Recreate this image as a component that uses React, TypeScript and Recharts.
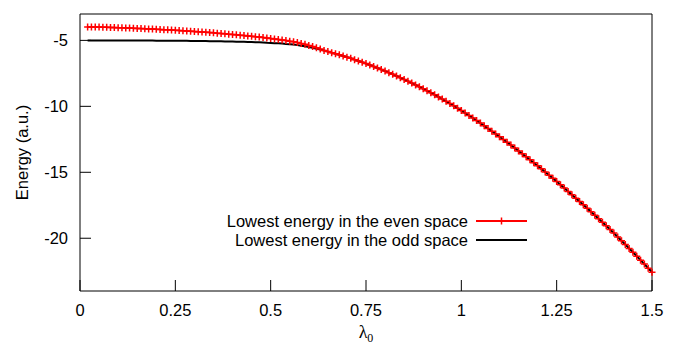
import { LineChart, Line, XAxis, YAxis, Legend, Label } from "recharts";

// lambda_0 grid of the computed points
const lambdas = [
  0.02, 0.03, 0.04, 0.05, 0.06, 0.07, 0.08, 0.09, 0.1,
  0.11, 0.12, 0.13, 0.14, 0.15, 0.16, 0.17, 0.18, 0.19, 0.2,
  0.21, 0.22, 0.23, 0.24, 0.25, 0.26, 0.27, 0.28, 0.29, 0.3,
  0.31, 0.32, 0.33, 0.34, 0.35, 0.36, 0.37, 0.38, 0.39, 0.4,
  0.41, 0.42, 0.43, 0.44, 0.45, 0.46, 0.47, 0.48, 0.49, 0.5,
  0.51, 0.52, 0.53, 0.54, 0.55, 0.56, 0.57, 0.58, 0.59, 0.6,
  0.61, 0.62, 0.63, 0.64, 0.65, 0.66, 0.67, 0.68, 0.69, 0.7,
  0.71, 0.72, 0.73, 0.74, 0.75, 0.76, 0.77, 0.78, 0.79, 0.8,
  0.81, 0.82, 0.83, 0.84, 0.85, 0.86, 0.87, 0.88, 0.89, 0.9,
  0.91, 0.92, 0.93, 0.94, 0.95, 0.96, 0.97, 0.98, 0.99, 1.0,
  1.01, 1.02, 1.03, 1.04, 1.05, 1.06, 1.07, 1.08, 1.09, 1.1,
  1.11, 1.12, 1.13, 1.14, 1.15, 1.16, 1.17, 1.18, 1.19, 1.2,
  1.21, 1.22, 1.23, 1.24, 1.25, 1.26, 1.27, 1.28, 1.29, 1.3,
  1.31, 1.32, 1.33, 1.34, 1.35, 1.36, 1.37, 1.38, 1.39, 1.4,
  1.41, 1.42, 1.43, 1.44, 1.45, 1.46, 1.47, 1.48, 1.49, 1.5,
];

// lowest energy, even space (red crosses)
const evenEnergy = [
  -3.98, -3.98, -3.99, -3.99, -4.0, -4.01, -4.02, -4.03, -4.04,
  -4.05, -4.06, -4.07, -4.08, -4.09, -4.1, -4.12, -4.13, -4.14, -4.16,
  -4.17, -4.19, -4.2, -4.22, -4.24, -4.25, -4.27, -4.29, -4.31, -4.33,
  -4.35, -4.37, -4.39, -4.41, -4.43, -4.46, -4.48, -4.5, -4.53, -4.55,
  -4.58, -4.61, -4.63, -4.66, -4.69, -4.72, -4.75, -4.78, -4.82, -4.85,
  -4.89, -4.93, -4.97, -5.01, -5.06, -5.11, -5.17, -5.23, -5.3, -5.38,
  -5.47, -5.56, -5.66, -5.77, -5.85, -5.93, -6.01, -6.09, -6.18, -6.27,
  -6.36, -6.46, -6.56, -6.66, -6.76, -6.87, -6.98, -7.09, -7.21, -7.33,
  -7.45, -7.57, -7.7, -7.83, -7.96, -8.1, -8.24, -8.38, -8.52, -8.67,
  -8.82, -8.97, -9.13, -9.29, -9.45, -9.62, -9.79, -9.96, -10.14, -10.32,
  -10.51, -10.69, -10.88, -11.08, -11.27, -11.48, -11.68, -11.89, -12.09, -12.3,
  -12.51, -12.73, -12.94, -13.16, -13.38, -13.6, -13.82, -14.05, -14.28, -14.51,
  -14.74, -14.98, -15.22, -15.46, -15.7, -15.95, -16.2, -16.45, -16.7, -16.96,
  -17.21, -17.47, -17.73, -17.99, -18.25, -18.52, -18.79, -19.06, -19.33, -19.61,
  -19.9, -20.19, -20.48, -20.77, -21.06, -21.36, -21.66, -21.96, -22.27, -22.57,
];

// lowest energy, odd space (black line)
const oddEnergy = [
  -5.0, -5.0, -5.0, -5.0, -5.0, -5.0, -5.0, -5.0, -5.0,
  -5.0, -5.0, -5.01, -5.01, -5.01, -5.01, -5.01, -5.01, -5.01, -5.02,
  -5.02, -5.02, -5.02, -5.02, -5.03, -5.03, -5.03, -5.03, -5.04, -5.04,
  -5.04, -5.05, -5.05, -5.06, -5.06, -5.07, -5.07, -5.08, -5.08, -5.09,
  -5.1, -5.11, -5.11, -5.12, -5.13, -5.14, -5.15, -5.16, -5.18, -5.19,
  -5.21, -5.22, -5.24, -5.27, -5.29, -5.32, -5.36, -5.4, -5.45, -5.5,
  -5.56, -5.63, -5.7, -5.77, -5.85, -5.93, -6.01, -6.09, -6.18, -6.27,
  -6.36, -6.46, -6.56, -6.66, -6.76, -6.87, -6.98, -7.09, -7.21, -7.33,
  -7.45, -7.57, -7.7, -7.83, -7.96, -8.1, -8.24, -8.38, -8.52, -8.67,
  -8.82, -8.97, -9.13, -9.29, -9.45, -9.62, -9.79, -9.96, -10.14, -10.32,
  -10.51, -10.69, -10.88, -11.08, -11.27, -11.48, -11.68, -11.89, -12.09, -12.3,
  -12.51, -12.73, -12.94, -13.16, -13.38, -13.6, -13.82, -14.05, -14.28, -14.51,
  -14.74, -14.98, -15.22, -15.46, -15.7, -15.95, -16.2, -16.45, -16.7, -16.96,
  -17.21, -17.47, -17.73, -17.99, -18.25, -18.52, -18.79, -19.06, -19.33, -19.61,
  -19.9, -20.19, -20.48, -20.77, -21.06, -21.36, -21.66, -21.96, -22.27, -22.57,
];

const xTicks = [0, 0.25, 0.5, 0.75, 1, 1.25, 1.5];
const yTicks = [-20, -15, -10, -5];

const seriesLabels = [
  "Lowest energy in the even space",
  "Lowest energy in the odd space",
];

const data = lambdas.map((x, i) => ({
  x,
  even: evenEnergy[i],
  odd: oddEnergy[i],
}));

const FONT = '"Liberation Sans", Arial, Helvetica, sans-serif';
const RED = "#ff0000";

// gnuplot-style "+" point
function Cross(props: any) {
  const { cx, cy, index } = props;
  if (cx == null || cy == null) return <g key={index} />;
  return (
    <path
      key={index}
      d={`M${cx - 3.5},${cy}h7M${cx},${cy - 3.5}v7`}
      stroke={RED}
      strokeWidth={1.5}
      fill="none"
    />
  );
}

function EnergyLegend() {
  const rows = [
    { label: seriesLabels[0], color: RED, mark: true },
    { label: seriesLabels[1], color: "#000", mark: false },
  ];
  return (
    <div style={{ fontFamily: FONT, fontSize: 16.5, color: "#000" }}>
      {rows.map((r) => (
        <div
          key={r.label}
          style={{
            display: "flex",
            justifyContent: "flex-end",
            alignItems: "center",
            height: 18.6,
            lineHeight: "18.6px",
          }}
        >
          <span>{r.label}</span>
          <svg width={51} height={10} style={{ marginLeft: 8 }}>
            <line x1={0} x2={51} y1={5} y2={5} stroke={r.color} strokeWidth={2} />
            {r.mark && (
              <path d="M22,5h7M25.5,1.5v7" stroke={r.color} strokeWidth={1.5} />
            )}
          </svg>
        </div>
      ))}
    </div>
  );
}

function LambdaLabel(props: any) {
  const { viewBox } = props;
  const cx = viewBox.x + viewBox.width / 2;
  return (
    <text
      x={cx}
      y={viewBox.y + 47}
      textAnchor="middle"
      fontFamily='"Liberation Serif", "DejaVu Serif", serif'
      fontSize={18}
      fill="#000"
    >
      λ
      <tspan fontSize={12} dy={4}>
        0
      </tspan>
    </text>
  );
}

function EnergyLabel(props: any) {
  const { viewBox } = props;
  const x = viewBox.x + 22;
  const y = viewBox.y + viewBox.height / 2;
  return (
    <text
      x={x}
      y={y}
      transform={`rotate(-90, ${x}, ${y})`}
      textAnchor="middle"
      dominantBaseline="central"
      fontFamily={FONT}
      fontSize={16.5}
      fill="#000"
    >
      Energy (a.u.)
    </text>
  );
}

export default function App() {
  const tickStyle = { fill: "#000", fontSize: 16.5, fontFamily: FONT };
  return (
    <div style={{ position: "absolute", left: 0, top: 0, background: "#fff" }}>
      <LineChart
        width={680}
        height={347}
        data={data}
        margin={{ top: 13, right: 27, bottom: 0, left: 0 }}
      >
        <XAxis
          xAxisId="b"
          dataKey="x"
          type="number"
          domain={[0, 1.5]}
          ticks={xTicks}
          height={56}
          stroke="#000"
          tick={tickStyle}
          tickSize={-11}
          tickMargin={24}
        >
          <Label content={LambdaLabel} />
        </XAxis>
        <XAxis
          xAxisId="t"
          orientation="top"
          dataKey="x"
          type="number"
          domain={[0, 1.5]}
          ticks={xTicks}
          height={1}
          stroke="#000"
          tick={false}
          tickSize={-11}
        />
        <YAxis
          yAxisId="l"
          type="number"
          domain={[-24, -3]}
          ticks={yTicks}
          width={80}
          stroke="#000"
          tick={tickStyle}
          tickSize={-11}
          tickMargin={23}
        >
          <Label content={EnergyLabel} />
        </YAxis>
        <YAxis
          yAxisId="r"
          orientation="right"
          type="number"
          domain={[-24, -3]}
          ticks={yTicks}
          width={1}
          stroke="#000"
          tick={false}
          tickSize={-11}
        />
        <Legend
          layout="vertical"
          verticalAlign="middle"
          align="center"
          content={EnergyLegend}
          wrapperStyle={{ left: 0, top: 212, width: 527 }}
        />
        {/* invisible copy so the top and right border axes get drawn */}
        <Line
          xAxisId="t"
          yAxisId="r"
          type="linear"
          dataKey="odd"
          stroke="none"
          dot={false}
          activeDot={false}
          legendType="none"
          isAnimationActive={false}
        />
        <Line
          xAxisId="b"
          yAxisId="l"
          type="linear"
          dataKey="even"
          stroke={RED}
          strokeWidth={1.5}
          dot={Cross}
          activeDot={false}
          isAnimationActive={false}
        />
        <Line
          xAxisId="b"
          yAxisId="l"
          type="linear"
          dataKey="odd"
          stroke="#000"
          strokeWidth={2}
          dot={false}
          activeDot={false}
          isAnimationActive={false}
        />
      </LineChart>
    </div>
  );
}
